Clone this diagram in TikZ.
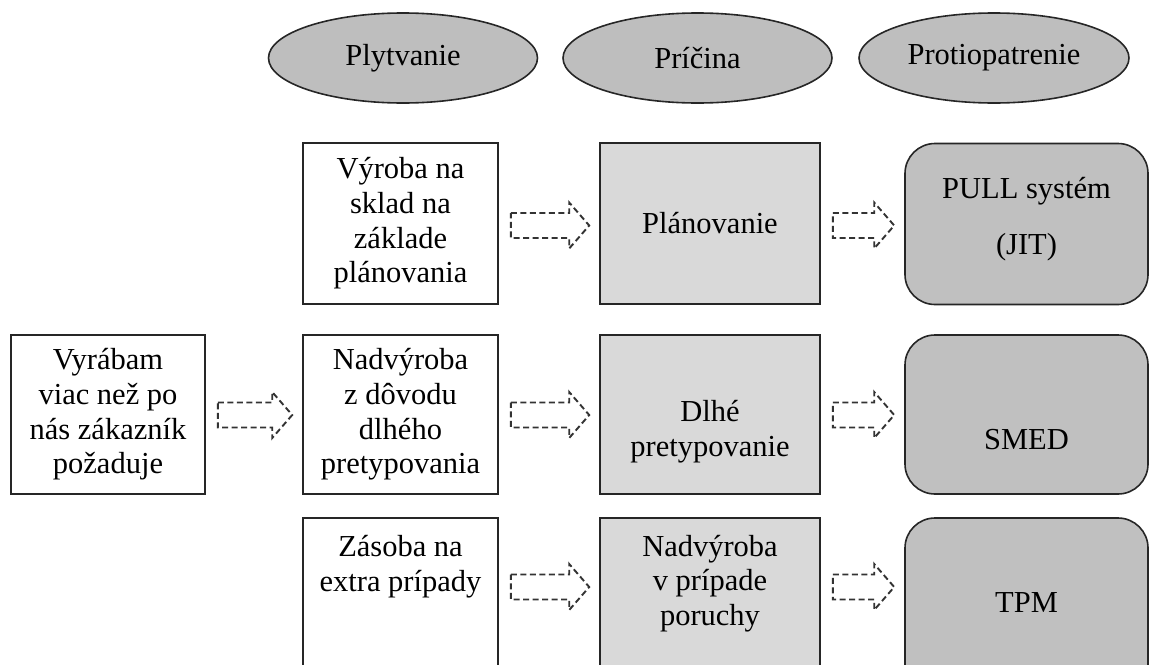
\documentclass[tikz,border=0pt]{standalone}
\usepackage{fontspec}
\setmainfont{Liberation Serif}
\usetikzlibrary{shapes.geometric,calc}
\definecolor{edge}{HTML}{262626}
\definecolor{arrowedge}{HTML}{333333}
\definecolor{ovalfill}{HTML}{BEBEBE}
\definecolor{causefill}{HTML}{D9D9D9}
\definecolor{fixfill}{HTML}{C0C0C0}

% hollow dashed block arrow filling the gap between two nodes at height #3
\newcommand\gaparrow[3]{%
  \draw[hollowarrow]
    ($(#1.east |- 0,#3)+(12,-12.5)$) -- ($(#2.west |- 0,#3)+(-30,-12.5)$)
    -- ($(#2.west |- 0,#3)+(-30,-23)$) -- ($(#2.west |- 0,#3)+(-10,0)$)
    -- ($(#2.west |- 0,#3)+(-30,23)$) -- ($(#2.west |- 0,#3)+(-30,12.5)$)
    -- ($(#1.east |- 0,#3)+(12,12.5)$) -- cycle;}

\begin{document}
\begin{tikzpicture}[x=1pt,y=-1pt,
  every node/.style={font=\fontsize{30.5}{34.7}\selectfont, inner sep=0pt, align=center, text=black},
  oval/.style={ellipse, draw=edge, line width=1.6pt, fill=ovalfill, minimum width=269pt, minimum height=90pt},
  plainbox/.style={rectangle, draw=edge, line width=1.6pt, fill=white},
  causebox/.style={plainbox, fill=causefill},
  fixbox/.style={rectangle, rounded corners=30pt, draw=edge, line width=1.6pt, fill=fixfill},
  wastecol/.style={minimum width=195pt},
  causecol/.style={minimum width=220pt},
  fixcol/.style={minimum width=243pt},
  rowone/.style={minimum height=161pt},
  rowtwo/.style={minimum height=159pt},
  rowthree/.style={minimum height=182pt},
  hollowarrow/.style={draw=arrowedge, line width=1.9pt, dash pattern=on 6pt off 3.5pt},
]
\useasboundingbox (0,0) rectangle (1159,664);
\clip (0,0) rectangle (1159,664);

% column headings
\node[oval] (hwaste) at (403,58) {Plytvanie};
\node[oval] (hcause) at (697.5,58) {Príčina};
\node[oval, minimum width=270pt] (hfix) at (994,58) {Protiopatrenie};

% source box
\node[plainbox, minimum width=194pt, rowtwo] (src) at (108,414.5)
  {Vyrábam\\viac než po\\nás zákazník\\požaduje};

% row 1
\node[plainbox, wastecol, rowone] (w1) at (400.5,223.5)
  {Výroba na\\sklad na\\základe\\plánovania};
\node[causebox, causecol, rowone] (c1) at (710,223.5) {Plánovanie};
\node[fixbox, fixcol, rowone] (f1) at (1026.5,224) {};
\node (f1a) at (1026.5,191) {PULL systém};
\node (f1b) at (1026.5,247) {(JIT)};

% row 2
\node[plainbox, wastecol, rowtwo] (w2) at (400.5,414.5)
  {Nadvýroba\\z dôvodu\\dlhého\\pretypovania};
\node[causebox, causecol, rowtwo] (c2) at (710,414.5) {};
\node (c2t) at (710,431.5) {Dlhé\\pretypovanie};
\node[fixbox, fixcol, rowtwo] (f2) at (1026.5,414.5) {};
\node (f2t) at (1026.5,440) {SMED};

% row 3
\node[plainbox, wastecol, rowthree] (w3) at (400.5,609) {};
\node (w3t) at (400.5,566.5) {Zásoba na\\extra prípady};
\node[causebox, causecol, rowthree] (c3) at (710,609) {};
\node (c3t) at (710,583.5) {Nadvýroba\\v prípade\\poruchy};
\node[fixbox, fixcol, rowthree] (f3) at (1026.5,609) {};
\node (f3t) at (1026.5,603) {TPM};

% arrows
\gaparrow{src}{w2}{415}
\gaparrow{w1}{c1}{225.5}
\gaparrow{c1}{f1}{225.5}
\gaparrow{w2}{c2}{415}
\gaparrow{c2}{f2}{415}
\gaparrow{w3}{c3}{587}
\gaparrow{c3}{f3}{587}
\end{tikzpicture}
\end{document}
